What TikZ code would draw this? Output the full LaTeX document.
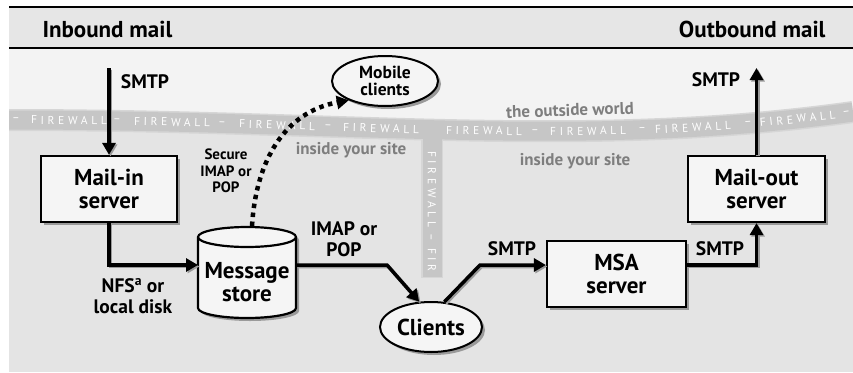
\documentclass[tikz,border=0pt]{standalone}
\usepackage{fontspec}
\setmainfont{PT Sans}
\usetikzlibrary{arrows.meta,shadows,decorations.markings,shapes.geometric}

\definecolor{hdr}{HTML}{E6E6E6}
\definecolor{outside}{HTML}{F3F3F3}
\definecolor{inside}{HTML}{E4E4E4}
\definecolor{wall}{HTML}{C6C6C6}
\definecolor{walledge}{HTML}{D6D6D6}
\definecolor{boxfill}{HTML}{F5F5F5}
\definecolor{zone}{HTML}{7E7E7E}
\definecolor{shade}{HTML}{9A9A9A}

\begin{document}
\begin{tikzpicture}[x=1pt,y=-1pt,
  boxshadow/.style={drop shadow={shadow xshift=3pt,shadow yshift=-3pt,fill=shade,opacity=1}},
  server/.style={draw=black,line width=2.2pt,fill=boxfill,align=center,
    font=\fontsize{23}{23}\selectfont\bfseries,boxshadow},
  client/.style={ellipse,draw=black,line width=2pt,fill=boxfill,align=center,
    inner sep=0pt,boxshadow},
  label/.style={align=center,font=\fontsize{19.5}{21}\selectfont\bfseries},
  zonelabel/.style={text=zone,font=\fontsize{17}{18}\selectfont\bfseries},
  heading/.style={font=\fontsize{23}{24}\selectfont\bfseries},
  walltext/.style={text=white,inner sep=0pt,transform shape,
    font=\fontsize{11.5}{12}\selectfont\addfontfeature{LetterSpace=32}},
  wire/.style={line width=3.5pt,draw=black,-{Triangle[length=12pt,width=13pt]},
    preaction={draw=shade,line width=3.5pt,transform canvas={shift={(1.5pt,-1.5pt)}}}},
  dotwire/.style={line width=4.5pt,draw=black,dash pattern=on 4.5pt off 4.5pt,
    -{Triangle[length=12pt,width=13pt]}},
]
\useasboundingbox (0,0) rectangle (853,372);

% background: inside (darker) and outside (lighter) zones
\fill[inside] (9,7) rectangle (853,372);
\fill[outside] (9,48) -- (9,120) .. controls (350,120) and (580,150) .. (853,112)
  -- (853,48) -- cycle;

% header strip
\fill[hdr] (9,7) rectangle (853,48);
\draw[line width=2.5pt] (9,7) -- (853,7);
\draw[line width=1.2pt] (9,48) -- (853,48);
\node[heading,anchor=west] (inbound) at (39,29) {Inbound mail};
\node[heading,anchor=east] (outbound) at (829,29) {Outbound mail};

% firewall band and its stem
\begin{scope}
\clip (9,48) rectangle (853,372);
\draw[walledge,line width=22pt] (9,120) .. controls (350,120) and (580,150) .. (853,112);
\fill[walledge] (421,125) rectangle (443,278);
\draw[wall,line width=19pt] (9,120) .. controls (350,120) and (580,150) .. (853,112);
\fill[wall] (422.5,125) rectangle (441.5,276.5);
\path[decoration={markings,
    mark=at position 7pt with {\node[walltext] {–};},
    mark=at position 60pt with {\node[walltext] {FIREWALL};},
    mark=at position 108pt with {\node[walltext] {–};},
    mark=at position 163pt with {\node[walltext] {FIREWALL};},
    mark=at position 213pt with {\node[walltext] {–};},
    mark=at position 268pt with {\node[walltext] {FIREWALL};},
    mark=at position 319pt with {\node[walltext] {–};},
    mark=at position 372pt with {\node[walltext] {FIREWALL};},
    mark=at position 475pt with {\node[walltext] {FIREWALL};},
    mark=at position 526pt with {\node[walltext] {–};},
    mark=at position 579pt with {\node[walltext] {FIREWALL};},
    mark=at position 633pt with {\node[walltext] {–};},
    mark=at position 684pt with {\node[walltext] {FIREWALL};},
    mark=at position 739pt with {\node[walltext] {–};},
    mark=at position 789pt with {\node[walltext] {FIREWALL};},
    mark=at position 838pt with {\node[walltext] {–};}},
  postaction={decorate}]
  (9,120) .. controls (350,120) and (580,150) .. (853,112);
\node[walltext,rotate=-90,anchor=west] (stemtext) at (432,151) {FIREWALL – FIR};
\end{scope}

% zone labels
\node[zonelabel,rotate=2] (outworld) at (570,110) {the outside world};
\node[zonelabel] (insideL) at (351,150) {inside your site};
\node[zonelabel] (insideR) at (575,161) {inside your site};

% servers
\node[server,minimum width=136pt,minimum height=66pt] (mailin) at (109,189) {Mail-in\\server};
\node[server,minimum width=139pt,minimum height=66pt] (msa) at (616.5,274) {MSA\\server};
\node[server,minimum width=137pt,minimum height=66pt] (mailout) at (756.5,189) {Mail-out\\server};

% message store cylinder
\path[fill=boxfill,draw=black,line width=2.2pt,boxshadow]
  (198,237) -- (198,308) arc[start angle=180,end angle=360,x radius=49pt,y radius=10pt]
  -- (296,237) arc[start angle=0,end angle=180,x radius=49pt,y radius=10pt] -- cycle;
\draw[line width=2.2pt] (198,237) arc[start angle=180,end angle=360,x radius=49pt,y radius=10pt];
\node[minimum width=98pt,minimum height=91pt,inner sep=0pt,align=center,
  font=\fontsize{23}{23}\selectfont\bfseries] (store) at (247,282) {Message\\store};

% clients
\node[client,minimum width=106pt,minimum height=50pt,
  font=\fontsize{17.5}{17.5}\selectfont\bfseries] (mobile) at (385,81) {Mobile\\clients};
\node[client,minimum width=102pt,minimum height=50pt,
  font=\fontsize{23}{23}\selectfont\bfseries] (clients) at (431,327) {Clients};

% free ends of the outside connections
\coordinate (inTop) at (109,68);
\coordinate (outTop) at (756.5,68);
\coordinate (imapBend) at (387,265);
\coordinate (smtpBend) at (480,265);

% connectors
\draw[wire] (inTop) -- (mailin.north);
\draw[wire] (mailin.south) |- (198,265);
\draw[wire] (296,265) -- (imapBend) -- (clients.115);
\draw[wire] (clients.62) -- (smtpBend) -- ([yshift=9pt]msa.west);
\draw[wire] ([yshift=9pt]msa.east) -| (mailout.south);
\draw[wire] (mailout.north) -- (outTop);
\draw[dotwire] (252,226) .. controls (256,160) and (285,112) .. (mobile.208);

% connector labels
\node[label] (lSmtpIn) at (145,82) {SMTP};
\node[label,font=\fontsize{15}{16.5}\selectfont\bfseries] (lSecure) at (226,171) {Secure\\IMAP or\\POP};
\node[label] (lNfs) at (133,296) {NFS\textsuperscript{a} or\\local disk};
\node[label] (lImap) at (344,239) {IMAP or\\POP};
\node[label] (lSmtpC) at (512,249) {SMTP};
\node[label] (lSmtpM) at (720,249) {SMTP};
\node[label] (lSmtpOut) at (716,80) {SMTP};
\end{tikzpicture}
\end{document}
